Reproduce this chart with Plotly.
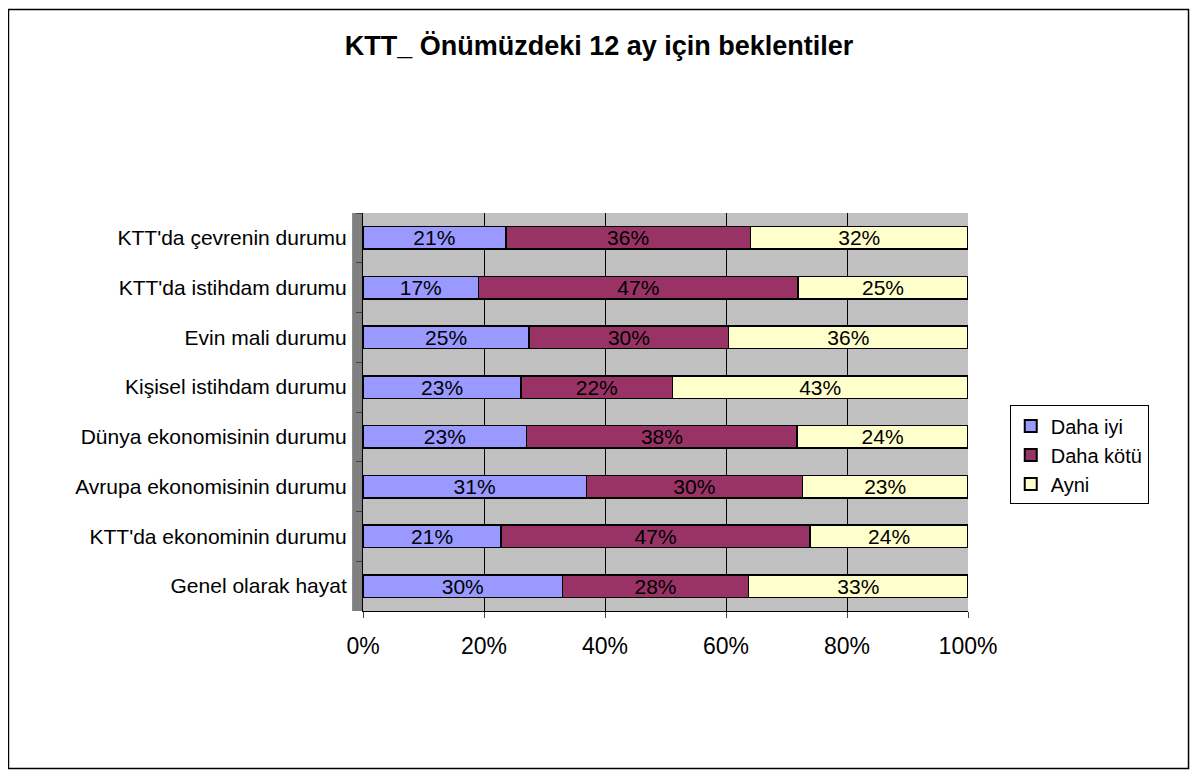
import plotly.graph_objects as go

categories = [
    "KTT'da çevrenin durumu",
    "KTT'da istihdam durumu",
    "Evin mali durumu",
    "Kişisel istihdam durumu",
    "Dünya ekonomisinin durumu",
    "Avrupa ekonomisinin durumu",
    "KTT'da ekonominin durumu",
    "Genel olarak hayat",
]
daha_iyi = [21, 17, 25, 23, 23, 31, 21, 30]
daha_kotu = [36, 47, 30, 22, 38, 30, 47, 28]
ayni = [32, 25, 36, 43, 24, 23, 24, 33]
x_ticks = [0, 20, 40, 60, 80, 100]
x_labels = ["0%", "20%", "40%", "60%", "80%", "100%"]

series = [
    ("Daha iyi", daha_iyi, "#9999FF"),
    ("Daha kötü", daha_kotu, "#993366"),
    ("Ayni", ayni, "#FFFFCC"),
]

FONT = "Liberation Sans, Arial, sans-serif"

fig = go.Figure()
for name, vals, color in series:
    fig.add_trace(go.Bar(
        y=categories, x=vals, name=name, orientation="h",
        marker=dict(color=color, line=dict(color="black", width=1.5)),
        text=[f"{v}%" for v in vals], texttemplate="%{text}",
        textposition="inside", insidetextanchor="middle",
        constraintext="none",
        textfont=dict(family=FONT, size=21, color="black"),
        width=0.45,
    ))

fig.update_layout(
    width=1182, height=762,
    barmode="stack", barnorm="percent",
    paper_bgcolor="white", plot_bgcolor="#C0C0C0",
    margin=dict(l=355, r=222, t=205, b=159, autoexpand=False),
    font=dict(family=FONT, size=20, color="black"),
    title=dict(text="<b>KTT_ Önümüzdeki 12 ay için beklentiler</b>",
               x=0.5, xanchor="center", y=0.951, yanchor="middle",
               font=dict(family=FONT, size=27, color="black")),
    legend=dict(x=1.069, y=0.392, xanchor="left", yanchor="middle",
                bordercolor="black", borderwidth=1, bgcolor="white",
                font=dict(family=FONT, size=20), traceorder="normal",
                itemsizing="constant", itemwidth=30, tracegroupgap=0),
)
fig.update_xaxes(
    range=[0, 100], tickvals=x_ticks, ticktext=x_labels,
    showgrid=True, gridcolor="black", gridwidth=1,
    showline=True, linecolor="black", ticks="outside", ticklen=6,
    ticklabelstandoff=8,
    tickfont=dict(size=23), zeroline=False, fixedrange=True,
)
fig.update_yaxes(
    autorange="reversed", showline=True, linecolor="black",
    ticks="outside", ticklen=6, tickson="boundaries",
    ticklabelstandoff=11,
    tickfont=dict(size=21), showgrid=False, fixedrange=True,
)

# left wall and outer frame
fig.add_shape(type="rect", xref="paper", yref="paper",
              x0=-0.018, x1=0.0, y0=0.0, y1=1.0,
              fillcolor="#808080", line=dict(width=0), layer="below")
fig.add_shape(type="rect", xref="paper", yref="paper",
              x0=-0.5860, x1=1.3645, y0=-0.396, y1=1.511,
              line=dict(color="black", width=1.5), fillcolor="rgba(0,0,0,0)")

fig.write_html("out.html")
